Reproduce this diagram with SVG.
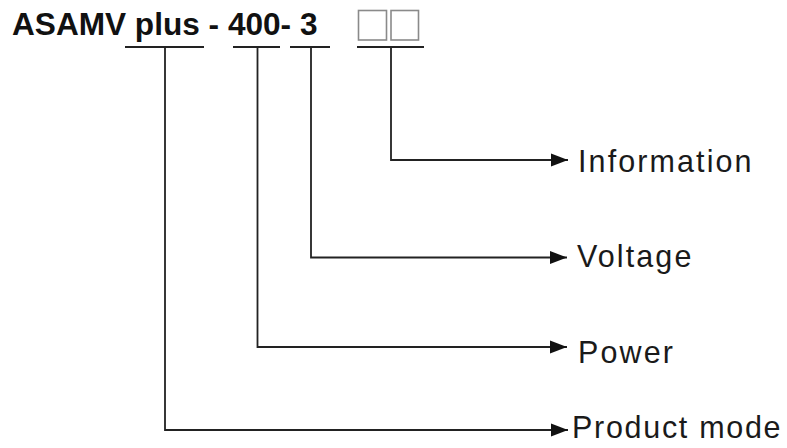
<svg xmlns="http://www.w3.org/2000/svg" width="787" height="448" viewBox="0 0 787 448">
<style>
.title{font-family:"Liberation Sans",Arial,sans-serif;font-weight:bold;font-size:31.6px;fill:#111}
.lbl{font-family:"Liberation Sans",Arial,sans-serif;font-size:30.5px;letter-spacing:2.1px;fill:#1a1a1a}
.ln{stroke:#222;stroke-width:1.8;fill:none}
.box{stroke:#8a8a8a;stroke-width:1.6;fill:#fff}
</style>
<defs>
<marker id="ah" markerUnits="userSpaceOnUse" markerWidth="18" markerHeight="14" refX="17" refY="7" orient="auto">
<path d="M0,0.5 L17,7 L0,13.5 Z" fill="#111"/>
</marker>
</defs>
<rect width="787" height="448" fill="#fff"/>
<g id="title">
<text class="title" x="12" y="35">ASAMV plus - 400- 3</text>
<rect class="box" x="358.5" y="10.5" width="28" height="29.5"/>
<rect class="box" x="391" y="10.5" width="27.5" height="29.5"/>
</g>
<g id="underlines">
<line class="ln" x1="125" y1="47" x2="204" y2="47"/>
<line class="ln" x1="233" y1="47" x2="280" y2="47"/>
<line class="ln" x1="290" y1="47" x2="330" y2="47"/>
<line class="ln" x1="357" y1="47" x2="424" y2="47"/>
</g>
<g id="connectors">
<path class="ln" d="M391,47 V160 H568" marker-end="url(#ah)"/>
<path class="ln" d="M311,47 V257.5 H567" marker-end="url(#ah)"/>
<path class="ln" d="M257.5,47 V347 H567" marker-end="url(#ah)"/>
<path class="ln" d="M165,47 V430 H568" marker-end="url(#ah)"/>
</g>
<g id="information"><text class="lbl" x="578" y="172">Information</text></g>
<g id="voltage"><text class="lbl" x="577" y="267">Voltage</text></g>
<g id="power"><text class="lbl" x="578" y="363">Power</text></g>
<g id="product-mode"><text class="lbl" x="572" y="438" style="letter-spacing:1.7px">Product mode</text></g>
</svg>
